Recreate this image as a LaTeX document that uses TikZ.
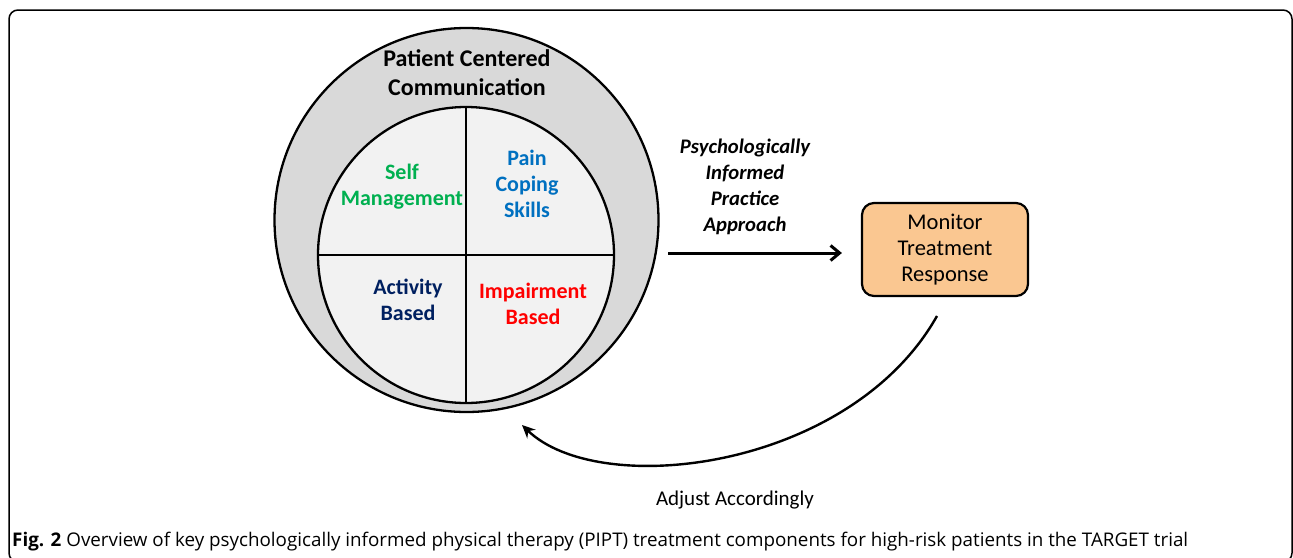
\documentclass[tikz,border=0pt]{standalone}
\usepackage{fontspec}
\setmainfont{Carlito}
\newfontfamily\capfont{Open Sans}
\usetikzlibrary{arrows.meta}
\definecolor{ringgray}{HTML}{D9D9D9}
\definecolor{pielight}{HTML}{F2F2F2}
\definecolor{selfgreen}{HTML}{00B050}
\definecolor{painblue}{HTML}{0070C0}
\definecolor{actnavy}{HTML}{002060}
\definecolor{impred}{HTML}{FF0000}
\definecolor{boxorange}{HTML}{FAC791}
\begin{document}
\begin{tikzpicture}[x=1pt,y=-1pt,
	lbl/.style={font=\bfseries\fontsize{22}{26}\selectfont, align=center, inner sep=0},
	flow/.style={line width=3pt, -{Straight Barb[length=9pt,width=15pt]}},
	back/.style={line width=2.4pt, -{Stealth[length=13pt,width=12pt]}}]
	\useasboundingbox (0,0) rectangle (1293,557);
	% Frame
	\draw[line width=1.5pt, rounded corners=9pt] (9,10) rectangle (1292,562);
	% Circles
	\node[circle, draw, line width=2.3pt, fill=ringgray, minimum size=384, inner sep=0] (outer) at (466.5,220) {};
	\node[circle, draw, line width=2.3pt, fill=pielight, minimum size=296, inner sep=0] (inner) at (466,255) {};
	\draw[line width=2.2pt] (inner.north) -- (inner.south);
	\draw[line width=2.2pt] (inner.west) -- (inner.east);
	\node[lbl, font=\bfseries\fontsize{24}{29}\selectfont] (pcc) at (467,73) {Patient Centered\\Communication};
	\node[lbl, text=selfgreen] (self) at (402,187) {Self\\Management};
	\node[lbl, text=painblue] (pain) at (527,184) {Pain\\Coping\\Skills};
	\node[lbl, text=actnavy] (act) at (408,300) {Activity\\Based};
	\node[lbl, text=impred] (imp) at (533,304) {Impairment\\Based};
	% Approach and monitoring
	\node[lbl, font=\bfseries\itshape\fontsize{20.7}{26}\selectfont] (pipa) at (745,187) {Psychologically\\Informed\\Practice\\Approach};
	\node[draw, line width=2.2pt, rounded corners=12pt, fill=boxorange, minimum width=166, minimum height=93,
		align=center, font=\fontsize{22.5}{26}\selectfont] (monitor) at (945,249.5) {Monitor\\Treatment\\Response};
	\coordinate (fwd) at (668,253);
	\draw[flow] (fwd) -- (fwd -| monitor.west) [shorten >=19pt];
	\coordinate (adjA) at (937,316);
	\coordinate (adjB) at (522,425);
	\draw[back] (adjA) .. controls (850,470) and (600,500) .. (adjB);
	\node[font=\fontsize{21}{24}\selectfont] (adjust) at (735,500) {Adjust Accordingly};
	% Caption
	\node[anchor=base west, inner sep=0, font=\capfont\fontsize{18.8}{22}\selectfont] (caption) at (12,546)
		{\textbf{Fig. 2} Overview of key psychologically informed physical therapy (PIPT) treatment components for high-risk patients in the TARGET trial};
\end{tikzpicture}
\end{document}
